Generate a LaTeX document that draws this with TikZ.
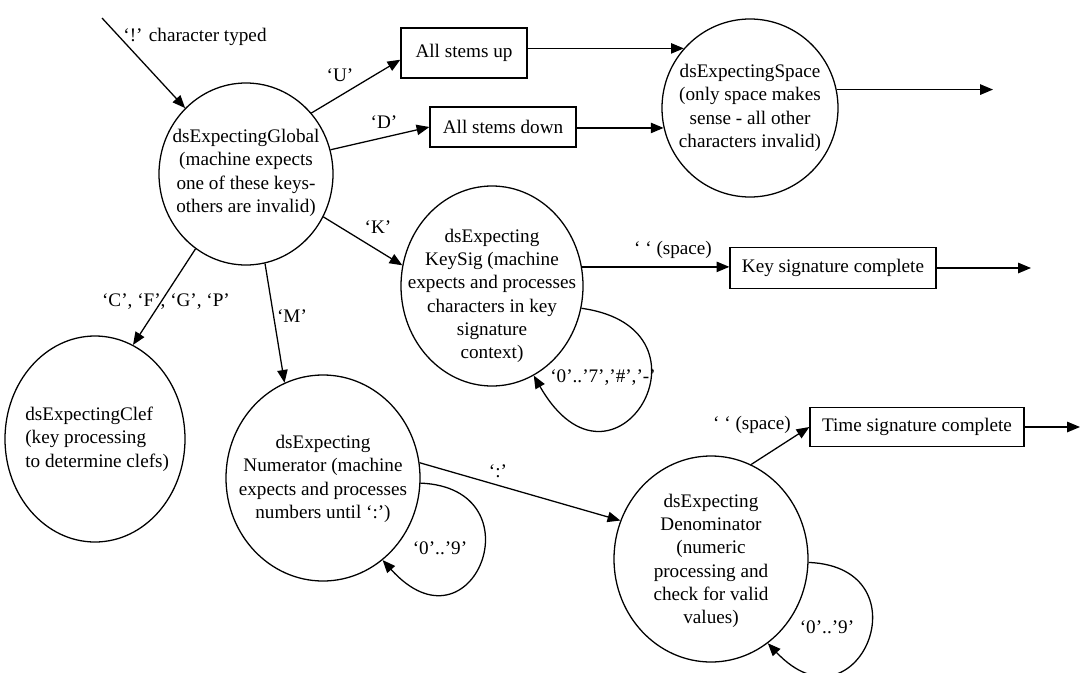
\documentclass[tikz,border=0pt]{standalone}
\usepackage{fontspec}
\setmainfont{Liberation Serif}
\usetikzlibrary{arrows.meta, shapes.geometric}
\tikzset{
  state/.style 2 args={
    ellipse, draw=black, line width=0.8pt, inner sep=0pt,
    minimum width=#1*0.626pt, minimum height=#2*0.626pt
  },
  statetext/.style={inner sep=0pt, align=center},
  box/.style 2 args={
    rectangle, draw=black, line width=0.8pt, inner sep=0pt,
    minimum width=#1*0.626pt, minimum height=#2*0.626pt
  },
  arrow/.style={
    -{Triangle[length=8pt,width=6.5pt]}, line width=0.8pt
  },
  lbl/.style={inner sep=0pt}
}

\begin{document}
\begin{tikzpicture}[x=0.626pt, y=-0.626pt,
  font=\fontsize{12pt}{14.6pt}\selectfont]
\useasboundingbox (0,0) rectangle (1084,673);

% states
\node[state={174}{182}] (global) at (246,174) {};
\node[statetext] (globaltxt) at (246,173) {dsExpectingGlobal\\(machine expects\\one of these keys-\\others are invalid)};

\node[state={176}{178}] (space) at (750,108) {};
\node[statetext] (spacetxt) at (750,108) {dsExpectingSpace\\(only space makes\\sense - all other\\characters invalid)};

\node[state={182}{200}] (keysig) at (492,286) {};
\node[statetext] (keysigtxt) at (492,296) {dsExpecting\\KeySig (machine\\expects and processes\\characters in key\\signature\\context)};

\node[state={180}{206}] (clef) at (95,439) {};
\node[statetext, align=left, anchor=west] (cleftxt) at (25,439) {dsExpectingClef\\(key processing\\to determine clefs)};

\node[state={194}{206}] (numer) at (323,478) {};
\node[statetext] (numertxt) at (323,479) {dsExpecting\\Numerator (machine\\expects and processes\\numbers until ‘:’)};

\node[state={194}{206}] (denom) at (711,559) {};
\node[statetext] (denomtxt) at (711,561) {dsExpecting\\Denominator\\(numeric\\processing and\\check for valid\\values)};

% actions
\node[box={126}{50}] (ubox) at (464,53) {All stems up};
\node[box={146}{40}] (dbox) at (503,127) {All stems down};
\node[box={206}{41}] (keybox) at (833,268) {Key signature complete};
\node[box={214}{39}] (timebox) at (917,427) {Time signature complete};

% free ends
\coordinate (typed) at (102,18);
\coordinate (spaceout) at (993,90);
\coordinate (keyout) at (1031,268);
\coordinate (timeout) at (1080,427);

% transitions
\draw[arrow] (typed) -- (global);
\draw[arrow] (global.43) -- (ubox.186);
\draw[arrow] (global.16) -- (dbox.west);
\draw[arrow] (global.-29) -- (keysig.167);
\draw[arrow] (global.-124) -- (clef.68);
\draw[arrow] (global.-78) -- (numer.112);
\draw[arrow] (ubox.east |- space.138) -- (space.138);
\draw[arrow] (dbox.east |- space.193) -- (space.193);
\draw[arrow] (space.12) -- (space.12 -| spaceout);
\draw[arrow] (keysig.12) -- (keysig.12 -| keybox.west);
\draw[arrow] (keybox.east) -- (keyout);
\draw[arrow] (numer.9) -- (denom.157);
\draw[arrow] (denom.67) -- (timebox.west);
\draw[arrow] (timebox.east) -- (timeout);

% self loops
\draw[arrow] (keysig.-14) .. controls +(145,20) and +(80,140) .. (keysig.-65);
\draw[arrow] (numer.-3) .. controls +(120,5) and +(90,100) .. (numer.-54);
\draw[arrow] (denom.-2) .. controls +(120,5) and +(90,95) .. (denom.-56);

% labels
\node[lbl] (typedlbl) at (195,37) {‘!’ character typed};
\node[lbl] (ulbl) at (340,75) {‘U’};
\node[lbl] (dlbl) at (384,122) {‘D’};
\node[lbl] (klbl) at (378,227) {‘K’};
\node[lbl] (clbl) at (166,302) {‘C’, ‘F’, ‘G’, ‘P’};
\node[lbl] (mlbl) at (292,316) {‘M’};
\node[lbl] (colonlbl) at (498,471) {‘:’};
\node[lbl] (keyspclbl) at (673,250) {‘ ‘ (space)};
\node[lbl] (timespclbl) at (752,425) {‘ ‘ (space)};
\node[lbl] (keylooplbl) at (603,378) {‘0’..’7’,’\#’,’-’};
\node[lbl] (numerlooplbl) at (440,548) {‘0’..’9’};
\node[lbl] (denomlooplbl) at (827,627) {‘0’..’9’};

\end{tikzpicture}
\end{document}
